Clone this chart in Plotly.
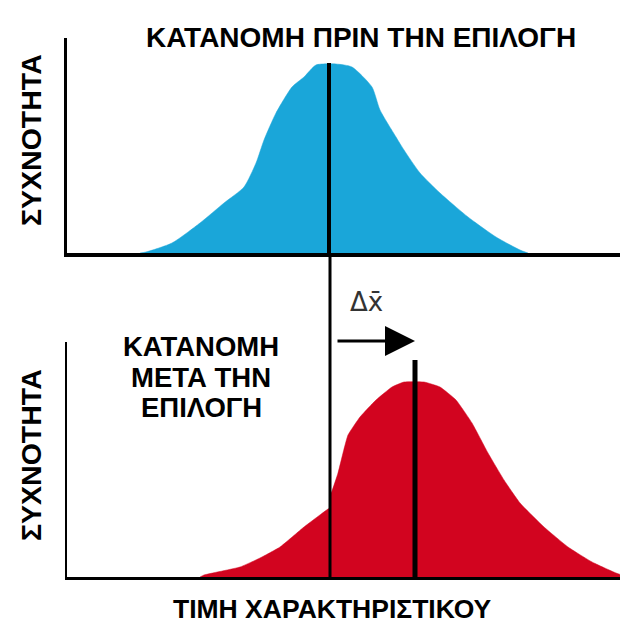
import plotly.graph_objects as go
from plotly.subplots import make_subplots

# ---- data (trait value vs. frequency, arbitrary units) ----
x_before = [140, 146, 172, 200, 224, 244, 256, 264, 276, 292, 304, 316, 336, 352, 372,
            380, 396, 404, 420, 440, 468, 496, 520, 528]
freq_before = [0, 1, 10, 30, 50, 66, 90, 113, 140, 166, 176, 188, 189, 186, 166,
               143, 116, 103, 80, 60, 36, 16, 3, 0]

x_after = [200, 204, 240, 260, 280, 304, 328, 330, 331, 332, 338, 344, 348, 360, 376, 392,
           404, 424, 440, 456, 472, 488, 504, 520, 544, 568, 592, 616, 628]
freq_after = [0, 2, 10, 19, 30, 50, 68, 69, 84, 86, 104, 128, 142, 160, 177, 190,
              195, 195, 190, 177, 154, 124, 97, 74, 50, 30, 15, 4, 0]

mean_before = 329
threshold = 330
mean_after = 415
mean_before_height = 190
mean_after_height = 217

title_text = "ΚΑΤΑΝΟΜΗ ΠΡΙΝ ΤΗΝ ΕΠΙΛΟΓΗ"
after_lines = ["ΚΑΤΑΝΟΜΗ", "ΜΕΤΑ ΤΗΝ", "ΕΠΙΛΟΓΗ"]
ylabel_text = "ΣΥΧΝΟΤΗΤΑ"
xlabel_text = "ΤΙΜΗ ΧΑΡΑΚΤΗΡΙΣΤΙΚΟΥ"
delta_text = "Δx̄"

BLUE = "#1AA6D9"
RED = "#D2041F"
FONT = "Liberation Sans, Arial, sans-serif"

# page geometry (the page body adds an 8px margin around the figure)
PAGE_W, PAGE_H, OFF = 628, 644, 8
W, H = PAGE_W - OFF, PAGE_H - OFF
PLOT_LEFT = 67  # page pixel where plot area starts

def px(x):  # page pixel x -> paper x
    return (x - PLOT_LEFT) / (PAGE_W - PLOT_LEFT)

def py(y):  # page pixel y -> paper y
    return (PAGE_H - y) / H

fig = make_subplots(rows=2, cols=1)

fig.add_trace(go.Scatter(x=x_before, y=freq_before, mode="lines", fill="tozeroy",
                         fillcolor=BLUE, line=dict(color=BLUE, width=0.5, shape="spline",
                                                   smoothing=0.6),
                         hoverinfo="skip", showlegend=False), row=1, col=1)
fig.add_trace(go.Scatter(x=[mean_before, mean_before], y=[0, mean_before_height],
                         mode="lines", line=dict(color="black", width=4),
                         hoverinfo="skip", showlegend=False), row=1, col=1)

fig.add_trace(go.Scatter(x=x_after, y=freq_after, mode="lines", fill="tozeroy",
                         fillcolor=RED, line=dict(color=RED, width=0.5, shape="spline",
                                                  smoothing=0.4),
                         hoverinfo="skip", showlegend=False), row=2, col=1)
fig.add_trace(go.Scatter(x=[mean_after, mean_after], y=[0, mean_after_height],
                         mode="lines", line=dict(color="black", width=5),
                         hoverinfo="skip", showlegend=False), row=2, col=1)

# threshold line running from the top baseline down to the bottom baseline
fig.add_shape(type="line", xref="x2", yref="paper", x0=threshold, x1=threshold,
              y0=py(577), y1=py(253), line=dict(color="black", width=3), layer="above")

axis_common = dict(showgrid=False, zeroline=False, showticklabels=False, ticks="",
                   showline=True, linecolor="black")
fig.update_xaxes(range=[PLOT_LEFT, PAGE_W], domain=[0, 1], **axis_common)
fig.update_yaxes(**axis_common)
fig.update_layout(
    xaxis=dict(linewidth=4),
    xaxis2=dict(linewidth=3),
    yaxis=dict(range=[0, 215], domain=[py(253), py(38)], linewidth=3),
    yaxis2=dict(range=[0, 235], domain=[py(577), py(342)], linewidth=2),
)

ann = []
ann.append(dict(text=title_text, x=px(361), y=py(38), xref="paper", yref="paper",
                showarrow=False, font=dict(family=FONT, size=28, color="black", weight="bold"),
                xanchor="center", yanchor="middle"))
for i, line in enumerate(after_lines):
    ann.append(dict(text=line, x=px(201), y=py(347 + 30 * i), xref="paper", yref="paper",
                    showarrow=False, font=dict(family=FONT, size=27.5, color="black", weight="bold"),
                    xanchor="center", yanchor="middle"))
for yc in (140, 455):
    ann.append(dict(text=ylabel_text, x=px(31), y=py(yc), xref="paper", yref="paper",
                    showarrow=False, textangle=-90,
                    font=dict(family=FONT, size=28.5, color="black", weight="bold"),
                    xanchor="center", yanchor="middle"))
ann.append(dict(text=xlabel_text, x=px(332), y=py(609), xref="paper", yref="paper",
                showarrow=False, font=dict(family=FONT, size=26.5, color="black", weight="bold"),
                xanchor="center", yanchor="middle"))
ann.append(dict(text=delta_text, x=px(366), y=py(302),
                xref="paper", yref="paper", showarrow=False,
                font=dict(family="DejaVu Sans, sans-serif", size=26, color="#333333"),
                xanchor="center", yanchor="middle"))
# shift arrow: from the selection threshold to the new mean
ann.append(dict(text="", x=mean_after, y=py(341), ax=threshold + 6, ay=0,
                xref="x2", yref="paper", axref="x2", ayref="pixel",
                showarrow=True, arrowhead=2, arrowsize=2, arrowwidth=3,
                arrowcolor="black", standoff=0, startstandoff=0))

fig.update_layout(
    width=W, height=H,
    margin=dict(l=PLOT_LEFT - OFF, r=0, t=0, b=0),
    paper_bgcolor="white", plot_bgcolor="white",
    annotations=ann,
)

fig.write_html("out.html")
